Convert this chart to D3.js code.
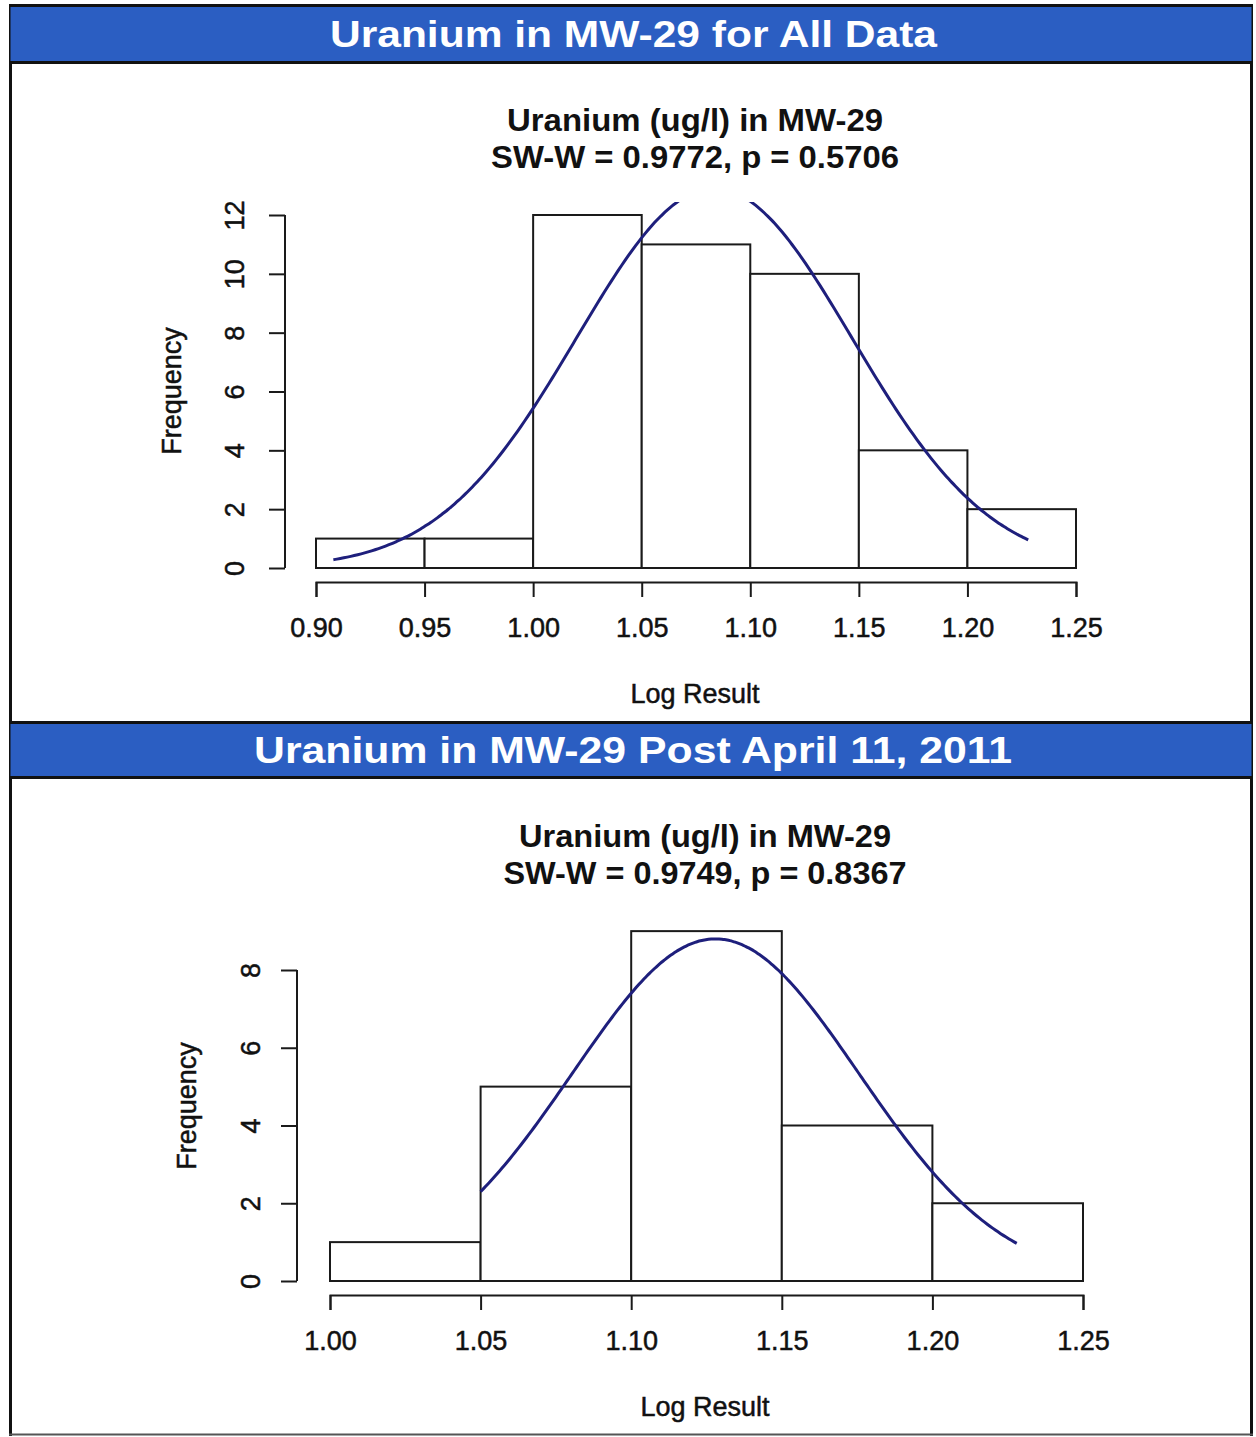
<!DOCTYPE html>
<html>
<head>
<meta charset="utf-8">
<script src="https://cdn.jsdelivr.net/npm/d3@7"></script>
<style>
  html, body { margin: 0; padding: 0; background: #fff; }
  svg { display: block; font-family: "Liberation Sans", Arial, Helvetica, sans-serif; }
</style>
</head>
<body>
<svg id="chart" width="1256" height="1437"></svg>
<script>
// ---- Panel 1: all data ----
const allBinEdges = [0.90, 0.95, 1.00, 1.05, 1.10, 1.15, 1.20, 1.25];
const allCounts   = [1, 1, 12, 11, 10, 4, 2];
const allXTicks   = [0.90, 0.95, 1.00, 1.05, 1.10, 1.15, 1.20, 1.25];
const allYTicks   = [0, 2, 4, 6, 8, 10, 12];
const allFit      = { mean: 1.0834, sd: 0.0634, n: 41, min: 0.908, max: 1.228 };

// ---- Panel 2: post April 11, 2011 ----
const postBinEdges = [1.00, 1.05, 1.10, 1.15, 1.20, 1.25];
const postCounts   = [1, 5, 9, 4, 2];
const postXTicks   = [1.00, 1.05, 1.10, 1.15, 1.20, 1.25];
const postYTicks   = [0, 2, 4, 6, 8];
const postFit      = { mean: 1.128, sd: 0.0476, n: 21, min: 1.05, max: 1.228 };

const svg = d3.select("#chart");
const BLUE = "#2b5ec2";
const CURVE = "#1e1f7c";
const INK = "#111";

// outer frame and header bands
function header(y0, y1, text, x0, x1) {
  svg.append("rect").attr("x", 10.5).attr("y", y0).attr("width", 1241).attr("height", y1 - y0)
    .attr("fill", BLUE);
  svg.append("line").attr("x1", 9).attr("x2", 1253).attr("y1", y0 - 1.5).attr("y2", y0 - 1.5)
    .attr("stroke", INK).attr("stroke-width", 3);
  svg.append("line").attr("x1", 9).attr("x2", 1253).attr("y1", y1 + 1.5).attr("y2", y1 + 1.5)
    .attr("stroke", INK).attr("stroke-width", 3);
  svg.append("text").attr("x", (x0 + x1) / 2).attr("y", (y0 + y1) / 2 + 13)
    .attr("text-anchor", "middle").attr("fill", "#fff").attr("font-weight", "bold")
    .attr("font-size", 37).attr("textLength", x1 - x0).attr("lengthAdjust", "spacingAndGlyphs")
    .text(text);
}

svg.append("line").attr("x1", 10.5).attr("x2", 10.5).attr("y1", 4).attr("y2", 1436)
  .attr("stroke", INK).attr("stroke-width", 3);
svg.append("line").attr("x1", 1251.5).attr("x2", 1251.5).attr("y1", 4).attr("y2", 1436)
  .attr("stroke", INK).attr("stroke-width", 3);
svg.append("line").attr("x1", 9).attr("x2", 1253).attr("y1", 1434.5).attr("y2", 1434.5)
  .attr("stroke", "#555").attr("stroke-width", 2);

header(7, 61, "Uranium in MW-29 for All Data", 330, 937);
header(724, 776, "Uranium in MW-29 Post April 11, 2011", 254, 1012);

function normalDensity(x, mean, sd) {
  return Math.exp(-0.5 * ((x - mean) / sd) ** 2) / (sd * Math.sqrt(2 * Math.PI));
}

// regular-weight labels are drawn with a hairline outline for a denser print look
function ink(sel) {
  return sel.attr("fill", INK).attr("stroke", INK).attr("stroke-width", 0.5);
}

function histogram(cfg) {
  const g = svg.append("g");
  const x = d3.scaleLinear().domain([cfg.edges[0], cfg.edges[cfg.edges.length - 1]]).range(cfg.xRange);
  const y = d3.scaleLinear().domain([0, cfg.yTop]).range(cfg.yRange);

  // titles
  g.append("text").attr("x", cfg.titleX).attr("y", cfg.titleY)
    .attr("text-anchor", "middle").attr("font-weight", "bold").attr("font-size", 31)
    .attr("textLength", cfg.title1W).attr("lengthAdjust", "spacingAndGlyphs")
    .attr("fill", INK).text("Uranium (ug/l) in MW-29");
  g.append("text").attr("x", cfg.titleX).attr("y", cfg.titleY + 37)
    .attr("text-anchor", "middle").attr("font-weight", "bold").attr("font-size", 31)
    .attr("textLength", cfg.title2W).attr("lengthAdjust", "spacingAndGlyphs")
    .attr("fill", INK).text(cfg.stat);

  // bars
  const bins = cfg.counts.map((c, i) => ({ x0: cfg.edges[i], x1: cfg.edges[i + 1], c }));
  g.selectAll("rect.bar").data(bins).join("rect").attr("class", "bar")
    .attr("x", d => x(d.x0)).attr("width", d => x(d.x1) - x(d.x0))
    .attr("y", d => y(d.c)).attr("height", d => y(0) - y(d.c))
    .attr("fill", "#fff").attr("stroke", "#1a1a1a").attr("stroke-width", 2);

  // fitted normal curve scaled to counts
  const binW = cfg.edges[1] - cfg.edges[0];
  const f = cfg.fit;
  const pts = d3.range(0, 201).map(i => {
    const xv = f.min + (f.max - f.min) * i / 200;
    return [xv, f.n * binW * normalDensity(xv, f.mean, f.sd)];
  });
  const clipId = "clip" + cfg.id;
  g.append("clipPath").attr("id", clipId).append("rect")
    .attr("x", 0).attr("width", 1256).attr("y", cfg.clipTop).attr("height", 1437);
  g.append("path").datum(pts)
    .attr("clip-path", `url(#${clipId})`)
    .attr("d", d3.line().x(d => x(d[0])).y(d => y(d[1])).curve(d3.curveBasis))
    .attr("fill", "none").attr("stroke", CURVE).attr("stroke-width", 3);

  // x axis
  const xa = g.append("g").attr("transform", `translate(0,${cfg.xAxisY})`)
    .call(d3.axisBottom(x).tickValues(cfg.xTicks).tickFormat(d3.format(".2f"))
      .tickSize(15).tickPadding(21));
  xa.selectAll("path, line").attr("stroke", "#1a1a1a").attr("stroke-width", 2);
  ink(xa.selectAll("text").attr("font-size", 27));
  xa.attr("font-family", null);

  // y axis
  const ya = g.append("g").attr("transform", `translate(${cfg.yAxisX},0)`)
    .call(d3.axisLeft(y).tickValues(cfg.yTicks).tickSize(16).tickSizeOuter(0));
  ya.select("path.domain").attr("d", `M0,${y(cfg.yTicks[0])}V${y(cfg.yTicks[cfg.yTicks.length - 1])}`);
  ya.selectAll("path, line").attr("stroke", "#1a1a1a").attr("stroke-width", 2);
  ink(ya.selectAll("text").attr("x", 0).attr("y", 0).attr("dy", "0.35em")
    .attr("text-anchor", "middle").attr("font-size", 27)
    .attr("transform", `translate(${cfg.yLabelOffset},0) rotate(-90)`));
  ya.attr("font-family", null);

  // axis titles
  ink(g.append("text").attr("x", cfg.titleX).attr("y", cfg.xAxisY + 121)
    .attr("text-anchor", "middle").attr("font-size", 27).text("Log Result"));
  ink(g.append("text").attr("transform", `translate(${cfg.freqX},${cfg.freqY}) rotate(-90)`)
    .attr("text-anchor", "middle").attr("font-size", 27).text("Frequency"));
}

histogram({
  id: 1, edges: allBinEdges, counts: allCounts, xTicks: allXTicks, yTicks: allYTicks,
  fit: allFit, stat: "SW-W = 0.9772, p = 0.5706", title1W: 376, title2W: 408,
  xRange: [316, 1076], yTop: 12, yRange: [568, 215], clipTop: 202,
  xAxisY: 582, yAxisX: 285, yLabelOffset: -50,
  titleX: 695, titleY: 131, freqX: 181, freqY: 391
});

histogram({
  id: 2, edges: postBinEdges, counts: postCounts, xTicks: postXTicks, yTicks: postYTicks,
  fit: postFit, stat: "SW-W = 0.9749, p = 0.8367", title1W: 372, title2W: 403,
  xRange: [330, 1083], yTop: 8, yRange: [1281, 970], clipTop: 880,
  xAxisY: 1295, yAxisX: 297, yLabelOffset: -46,
  titleX: 705, titleY: 847, freqX: 196, freqY: 1106
});
</script>
</body>
</html>
